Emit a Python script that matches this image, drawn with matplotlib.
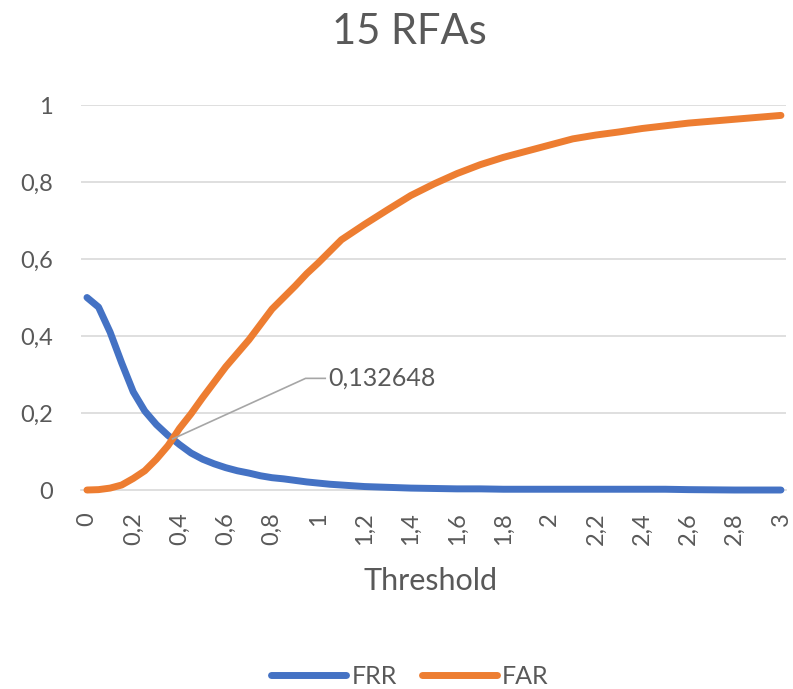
"""
FRR / FAR curves against decision threshold for the 15 RFA set
"""

import matplotlib
matplotlib.use("Agg")
import matplotlib.pyplot as plt

plt.rcParams['font.family'] = ['Lato', 'DejaVu Sans']

TEXT = "#595959"
GRID = "#D9D9D9"
BLUE = "#4472C4"
ORANGE = "#ED7D31"

thresholds = [0, 0.05, 0.1, 0.15, 0.2, 0.25, 0.3, 0.35, 0.37, 0.4, 0.45, 0.5,
              0.55, 0.6, 0.65, 0.7, 0.75, 0.8, 0.85, 0.9, 0.95, 1.0, 1.05, 1.1,
              1.15, 1.2, 1.3, 1.4, 1.5, 1.6, 1.7, 1.8, 1.9, 2.0, 2.1, 2.2, 2.3,
              2.4, 2.5, 2.6, 2.7, 2.8, 2.9, 3.0]
frr = [0.50, 0.475, 0.41, 0.33, 0.255, 0.205, 0.17, 0.142, 0.132648, 0.118,
       0.096, 0.08, 0.068, 0.058, 0.05, 0.044, 0.037, 0.032, 0.029, 0.025, 0.021,
       0.018, 0.015, 0.013, 0.011, 0.009, 0.007, 0.005, 0.004, 0.003, 0.003,
       0.002, 0.002, 0.002, 0.002, 0.002, 0.002, 0.002, 0.002, 0.001, 0.0005,
       0.0, 0.0, 0.0]
far = [0.0, 0.001, 0.005, 0.013, 0.03, 0.05, 0.08, 0.115, 0.1326, 0.16, 0.198,
       0.24, 0.28, 0.32, 0.355, 0.39, 0.43, 0.47, 0.50, 0.53, 0.562, 0.59, 0.62,
       0.65, 0.67, 0.69, 0.728, 0.765, 0.795, 0.822, 0.845, 0.864, 0.88, 0.896,
       0.912, 0.922, 0.93, 0.939, 0.946, 0.953, 0.958, 0.963, 0.968, 0.973]

x_ticks = [i * 0.2 for i in range(16)]
y_ticks = [0, 0.2, 0.4, 0.6, 0.8, 1.0]
eer_idx = 8  # where the two curves cross


def comma(v):
    # decimal comma, trailing zeros dropped
    s = ('%.6f' % v).rstrip('0').rstrip('.')
    return s.replace('.', ',')


fig = plt.figure(figsize=(7.93, 6.89), dpi=100)
ax = fig.add_axes([0.1021, 0.2888, 0.8891, 0.5588])

for y in y_ticks[1:]:
    ax.axhline(y, color=GRID, lw=1.2, zorder=0)

ax.plot(thresholds, frr, color=BLUE, lw=5, solid_capstyle='round',
        solid_joinstyle='round', label='FRR', clip_on=False, zorder=3)
ax.plot(thresholds, far, color=ORANGE, lw=5, solid_capstyle='round',
        solid_joinstyle='round', label='FAR', clip_on=False, zorder=3)

# leader line + value label for the crossing point
ex, ey = thresholds[eer_idx], frr[eer_idx]
ax.plot([ex, 0.945, 1.03], [ey, 0.29, 0.29], color="#A6A6A6", lw=1.2, zorder=4)
ax.text(1.045, 0.29, comma(ey), color=TEXT, fontsize=18, va='center', ha='left')

ax.set_xlim(-0.026, 3.022)
ax.set_ylim(0, 1)
ax.set_xticks(x_ticks)
ax.set_xticklabels([comma(t) for t in x_ticks], rotation=90)
ax.set_yticks(y_ticks)
ax.set_yticklabels([comma(t) for t in y_ticks])
ax.tick_params(axis='x', length=0, pad=16, labelsize=17, labelcolor=TEXT)
ax.tick_params(axis='y', length=0, pad=20, labelsize=17, labelcolor=TEXT)

for side in ['top', 'right', 'left']:
    ax.spines[side].set_visible(False)
ax.spines['bottom'].set_color(GRID)
ax.spines['bottom'].set_linewidth(1.2)

fig.text(0.516, 0.9536, '15 RFAs', fontsize=30, color=TEXT, ha='center', va='center')
fig.text(0.543, 0.1567, 'Threshold', fontsize=22, color=TEXT, ha='center', va='center')

leg = fig.legend(loc='center', bbox_to_anchor=(0.517, 1 - 676 / 689), ncol=2,
                 frameon=False, fontsize=18, handlelength=3.0, handletextpad=0.2,
                 columnspacing=1.0, borderpad=0)
for t in leg.get_texts():
    t.set_color(TEXT)

fig.savefig('out.png', dpi=100)
